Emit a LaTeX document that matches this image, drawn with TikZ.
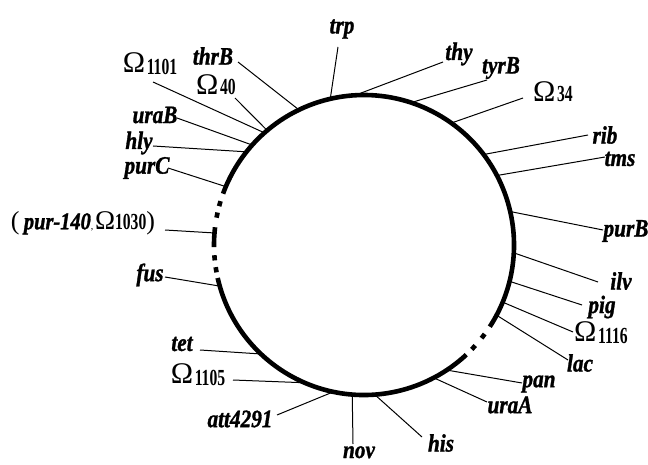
\documentclass[tikz,border=0pt]{standalone}
\usepackage{fontspec}
\setmainfont{Liberation Serif}
\newfontfamily\genefont{Liberation Serif}[FakeStretch=0.85, FakeBold=1.2]
\newfontfamily\numfont{Liberation Serif}[FakeStretch=0.68]
\newcommand{\omlab}[2][0pt]{{\fontsize{30}{30}\selectfont Ω}\,\raisebox{-#1}{\numfont\bfseries\fontsize{23}{23}\selectfont #2}}
\tikzset{
  chrom/.style={line width=4.6pt},
  tick/.style={line width=1pt},
  gene/.style={inner sep=0pt, font=\genefont\bfseries\itshape\fontsize{25}{25}\selectfont},
  omega/.style={inner sep=0pt},
}
\begin{document}
\begin{tikzpicture}[x=1pt, y=1pt]
  \useasboundingbox (0,0) rectangle (648,464);
  \coordinate (o) at (364,219);

  % chromosome circle
  \draw[chrom] (o) ++(-33:150) arc[start angle=-33, end angle=160, radius=150];
  \draw[chrom] (o) ++(192.7:150) arc[start angle=192.7, end angle=313, radius=150];
  \draw[chrom] (o) ++(173.2:150) arc[start angle=173.2, end angle=180.8, radius=150];
  \foreach \a in {164,168.5,184.9,189.5,316.9,322.6}
    \draw[chrom] (o) ++({\a-1}:150) arc[start angle=\a-1, end angle=\a+1, radius=150];

  % markers
  \foreach \n/\a/\x/\y in {
    trp/103/338/417, thy/93.4/443/402, tyrB/71.7/487/384, om34/54.4/523/366,
    rib/37.1/588/329, tms/27.6/605/307, purB/12.9/603/234, ilv/-3/598/182,
    pig/-14/582/159, om1116/-22.4/573/132, lac/-27.9/568/104, pan/-56.5/522/81,
    uraA/-62.3/487/62, his/-85.9/422/27, nov/-94.5/353/20, att/258.2/277/49,
    om1105/246.7/233/84, tet/226.6/200/114, fus/195.9/165/187, pur140/175.4/165/234,
    purC/157.1/168/296, hly/141.6/153/318, uraB/138.2/177/346, om1101/131.6/153/382,
    om40/130.2/235/366, thrB/115.7/238/402}
  {
    \path (o) ++(\a:150) coordinate (\n-c);
    \coordinate (\n-e) at (\x,\y);
    \draw[tick] (\n-e) -- (\n-c);
  }

  \node[gene] (trp) at (342,435) {trp};
  \node[gene] (thy) at (459,410) {thy};
  \node[gene] (tyrB) at (501,396) {tyrB};
  \node[omega] (om34) at (553,372) {\omlab{34}};
  \node[gene] (rib) at (605,329) {rib};
  \node[gene] (tms) at (620,305) {tms};
  \node[gene] (purB) at (626,233) {purB};
  \node[gene] (ilv) at (621,183) {ilv};
  \node[gene] (pig) at (602,157) {pig};
  \node[omega] (om1116) at (601,131) {\omlab[2pt]{1116}};
  \node[gene] (lac) at (580,101) {lac};
  \node[gene] (pan) at (539,80) {pan};
  \node[gene] (uraA) at (510,59) {uraA};
  \node[gene] (his) at (441,21) {his};
  \node[gene, anchor=base] (nov) at (359,6) {nov};
  \node[gene] (att) at (240,45) {att4291};
  \node[omega] (om1105) at (198,89) {\omlab[2pt]{1105}};
  \node[gene] (tet) at (182,120) {tet};
  \node[gene] (fus) at (150,189) {fus};
  \node[omega] (pur140) at (83,241) {{\fontsize{26}{26}\selectfont(\,}{\genefont\bfseries\itshape\fontsize{24}{24}\selectfont pur-140},\,{\fontsize{27}{27}\selectfont Ω}{\numfont\bfseries\fontsize{23}{23}\selectfont 1030}{\fontsize{26}{26}\selectfont)}};
  \node[gene] (purC) at (147,296) {purC};
  \node[gene] (hly) at (139,321) {hly};
  \node[gene] (uraB) at (155,349) {uraB};
  \node[omega] (om1101) at (150,400) {\omlab[2pt]{1101}};
  \node[omega] (om40) at (216,379) {\omlab{40}};
  \node[gene] (thrB) at (213,408) {thrB};
\end{tikzpicture}
\end{document}
